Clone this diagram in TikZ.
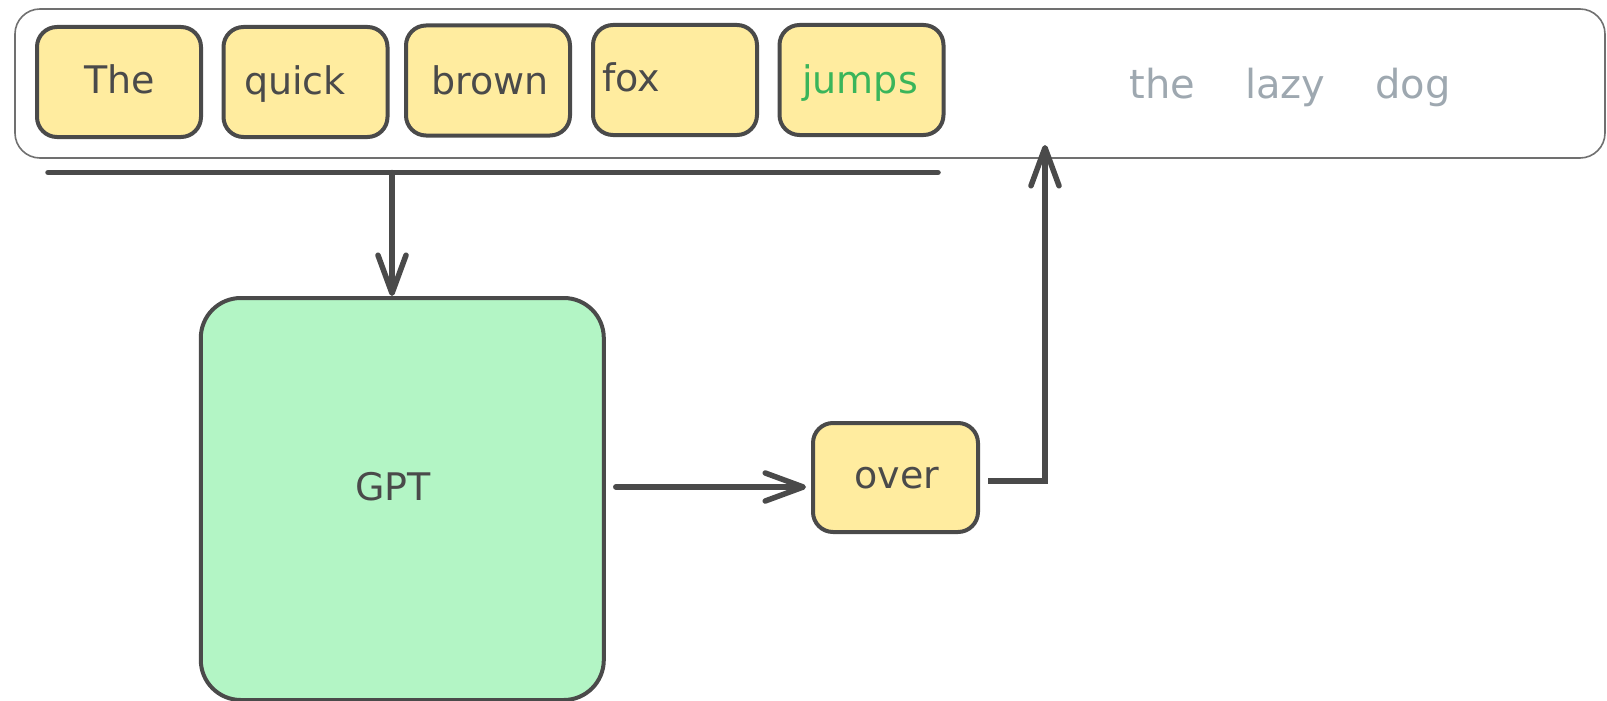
\documentclass[tikz,border=0pt]{standalone}
\usepackage{fontspec}
\setmainfont{DejaVu Sans}
\usetikzlibrary{arrows.meta,calc}
\definecolor{ink}{HTML}{4A4A4A}
\definecolor{tokfill}{HTML}{FFEC9F}
\definecolor{gptfill}{HTML}{B3F5C5}
\definecolor{nextword}{HTML}{3AB55A}
\definecolor{futuretext}{HTML}{9EA8B0}
\definecolor{framegray}{HTML}{707070}
\begin{document}
\begin{tikzpicture}[x=1pt,y=-1pt,
  token/.style={draw=ink, fill=tokfill, line width=4pt, rounded corners=20pt,
                minimum width=164pt, minimum height=110pt, inner sep=0pt},
  model/.style={draw=ink, fill=gptfill, line width=4pt, rounded corners=40pt,
                minimum width=403pt, minimum height=402pt, inner sep=0pt},
  word/.style={anchor=base, inner sep=0pt, text=ink, font=\fontsize{38}{40}\selectfont},
  wire/.style={draw=ink, line width=5.5pt, line cap=round},
  flow/.style={wire, -{Straight Barb[length=38pt,width=28pt,line width=5.5pt,round]}}
]
\useasboundingbox (0,0) rectangle (1607,701);

% context window
\node[draw=framegray, line width=1.6pt, rounded corners=25pt,
      minimum width=1590pt, minimum height=149pt, inner sep=0pt] (window) at (810,83.5) {};

% input tokens
\node[token] (t1) at (119,82) {};
\node[token] (t2) at (305.5,82) {};
\node[token] (t3) at (488,80.5) {};
\node[token] (t4) at (675,80) {};
\node[token] (t5) at (861.5,80) {};
\node[word] (w1) at (119.5,93) {The};
\node[word] (w2) at (295,95) {quick};
\node[word] (w3) at (490,95) {brown};
\node[word, anchor=base west] (w4) at (602,92) {fox};
\node[word, text=nextword] (w5) at (860,93) {jumps};

% remaining sentence
\node[word, text=futuretext, font=\fontsize{40}{42}\selectfont]
  (rest) at (1290,99) {\spaceskip=50pt the lazy dog};

% bracket under the tokens
\coordinate (ul-l) at (48,172.5);
\coordinate (ul-r) at (938,172.5);
\coordinate (ul-tap) at (392,172.5);
\draw[wire] (ul-l) -- (ul-r);

% model
\node[model] (gpt) at (402.3,499) {};
\node[word] (gptlabel) at (393,500) {GPT};

% predicted token
\node[token, minimum width=165pt, minimum height=109pt] (pred) at (895.5,477.5) {};
\node[word] (predlabel) at (897,488) {over};

% connectors
\draw[flow] (ul-tap) -- (gpt.north -| ul-tap);
\coordinate (gpt-out) at ([xshift=10pt,yshift=12pt]gpt.east);
\draw[flow, shorten >=5pt] (gpt-out) -- (pred.west |- gpt-out);
\coordinate (pred-out) at ([xshift=8pt,yshift=-3.5pt]pred.east);
\coordinate (append) at (1045,145);
\draw[flow, line cap=butt] (pred-out) -- (pred-out -| append) -- (append);
\end{tikzpicture}
\end{document}
